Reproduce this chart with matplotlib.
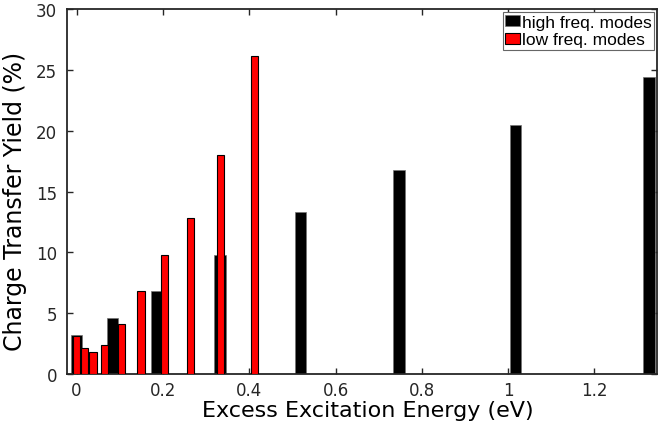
import numpy as np
import matplotlib.pyplot as plt

# excitation energies (eV) and charge transfer yields (%)
e_high = [0.0, 0.083, 0.186, 0.332, 0.519, 0.747, 1.017, 1.327]
y_high = [3.2, 4.6, 6.8, 9.8, 13.3, 16.8, 20.5, 24.4]

e_low = [0.0, 0.018, 0.038, 0.065, 0.104, 0.149, 0.203, 0.264, 0.334, 0.412]
y_low = [3.1, 2.1, 1.8, 2.4, 4.1, 6.8, 9.8, 12.8, 18.0, 26.1]

fig = plt.figure(figsize=(6.58, 4.35), dpi=100)
ax = fig.add_axes([0.1018, 0.1379, 0.8967, 0.8391])

ax.bar(e_high, y_high, width=0.027, color='k', edgecolor='0.45', linewidth=0.5,
       label='high freq. modes', zorder=2)
ax.bar(e_low, y_low, width=0.017, color='#ff0000', edgecolor='k', linewidth=0.8,
       label='low freq. modes', zorder=3)

ax.set_xlim(-0.0222, 1.345)
ax.set_ylim(0, 30)
ax.set_xticks(np.arange(0, 1.21, 0.2))
ax.set_xticklabels(['0', '0.2', '0.4', '0.6', '0.8', '1', '1.2'])
ax.set_yticks(range(0, 31, 5))

for s in ax.spines.values():
    s.set_linewidth(1.3)
    s.set_color('#262626')
ax.tick_params(direction='in', length=4, width=1, top=True, right=True,
               labelsize=12, colors='#262626', pad=5)
ax.tick_params(axis='y', pad=7)

ax.set_xlabel('Excess Excitation Energy (eV)', fontsize=16)
ax.set_ylabel('Charge Transfer Yield (%)', fontsize=17)
ax.xaxis.set_label_coords(0.51, -0.072)
ax.yaxis.set_label_coords(-0.068, 0.475)

leg = ax.legend(loc='upper right', bbox_to_anchor=(0.9949, 0.991),
                prop={'family': 'Liberation Sans', 'size': 12.5},
                frameon=True, fancybox=False, edgecolor='0.4', framealpha=1,
                handlelength=0.85, handleheight=0.6, handletextpad=0.1,
                borderpad=0.15, labelspacing=0.15, borderaxespad=0)
leg.get_frame().set_linewidth(0.8)

fig.savefig('out.png', dpi=100)
